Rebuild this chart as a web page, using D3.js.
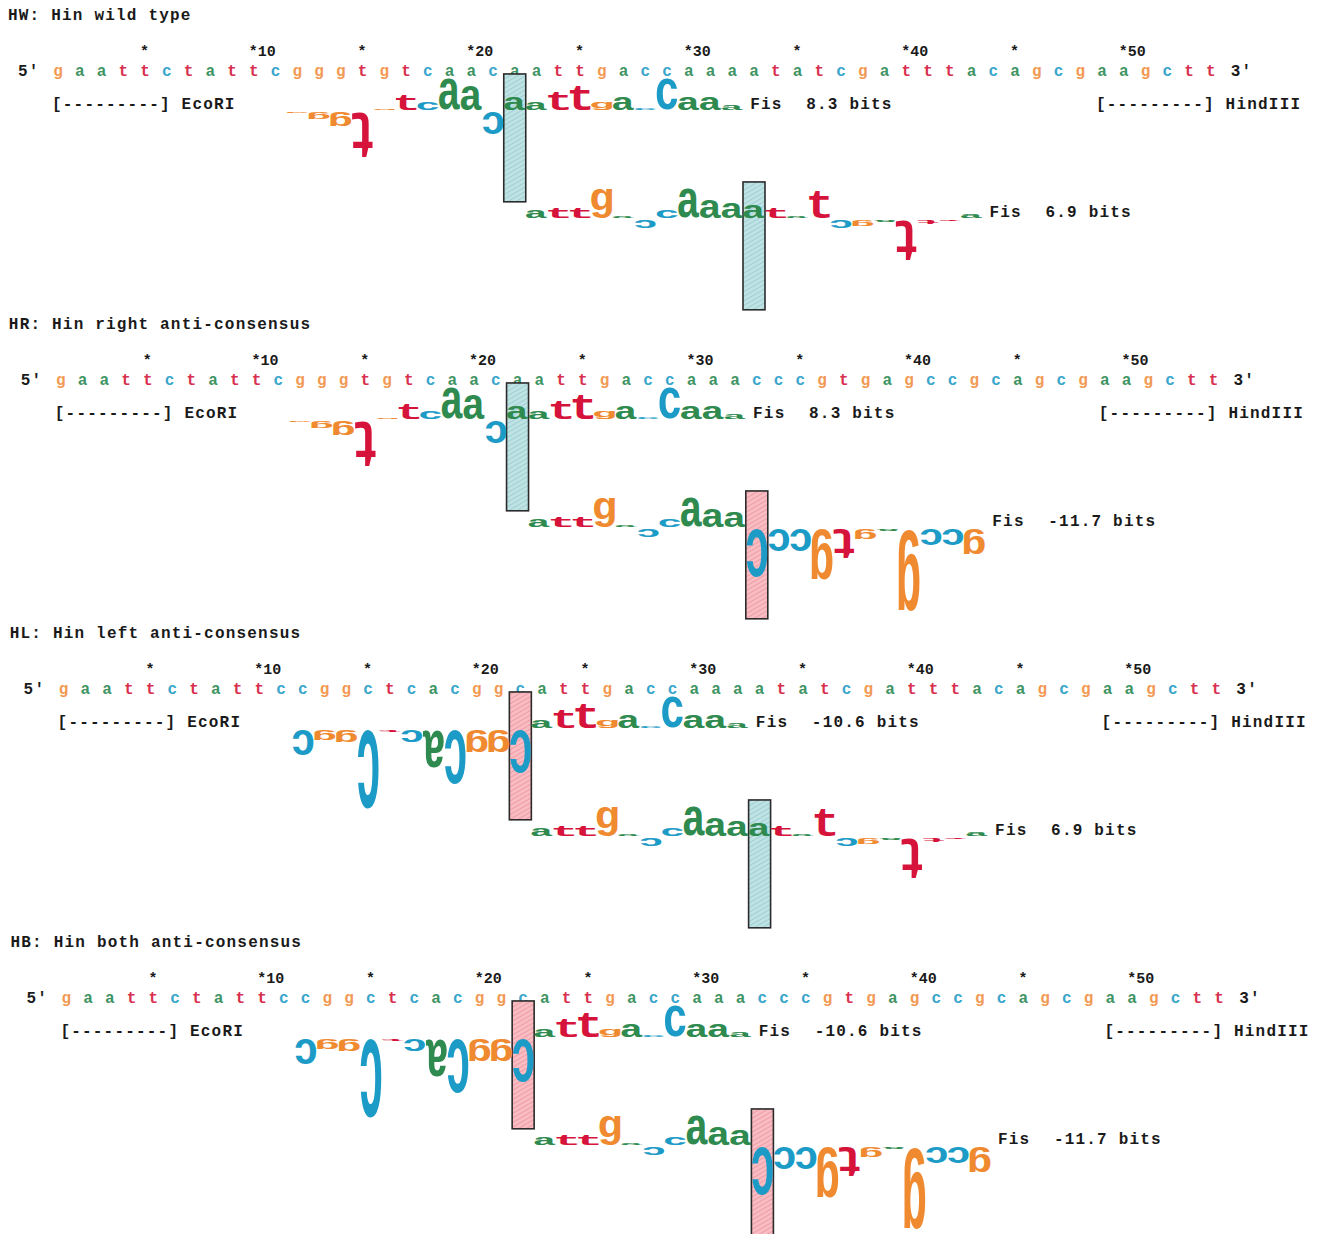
<!DOCTYPE html>
<html>
<head>
<meta charset="utf-8">
<script src="https://cdn.jsdelivr.net/npm/d3@7/dist/d3.min.js"></script>
<style>
  body { margin: 0; background: #ffffff; }
  text { font-family: "Liberation Mono", "DejaVu Sans Mono", monospace; font-weight: bold; }
</style>
</head>
<body>
<svg id="chart"></svg>
<script>
// ---- data ---------------------------------------------------------------
const panelTitles = [
  "HW: Hin wild type",
  "HR: Hin right anti-consensus",
  "HL: Hin left anti-consensus",
  "HB: Hin both anti-consensus"
];

// 54 bp sequence of each construct (EcoRI ... HindIII)
const sequences = [
  "gaattctattcgggtgtcaacaattgaccaaaatatcgatttacagcgaagctt",
  "gaattctattcgggtgtcaacaattgaccaaacccgtgagccgcagcgaagctt",
  "gaattctattccggctcacggcattgaccaaaatatcgatttacagcgaagctt",
  "gaattctattccggctcacggcattgaccaaacccgtgagccgcagcgaagctt"
];

// Fis sequence walkers: individual information R_i (bits), one value per base
const leftSiteStart = 12;   // zero position 22
const rightSiteStart = 23;  // zero position 33
const leftWild  = [-0.1, -0.4, -0.85, -2.65, 0.1, 0.85, 0.45, 1.85, 1.45, -1.3, 0.8,
                   0.45, 1.1, 1.45, 0.45, 0.8, 0.1, 1.85, 0.8, 0.8, 0.3];
const leftAnti  = [-1.5, -0.55, -0.7, -4.6, -0.15, -0.7, -2.2, -3.2, -1.3, -1.3, -2.5,
                   0.45, 1.1, 1.45, 0.45, 0.8, 0.1, 1.85, 0.8, 0.8, 0.3];
const rightWild = [0.5, 0.6, 0.6, 1.75, 0.1, -0.5, 0.5, 1.75, 1.05, 0.9, 0.75,
                   0.6, 0.1, 1.6, -0.5, -0.35, -0.1, -2.4, -0.2, -0.1, 0.25];
const rightAnti = [0.5, 0.6, 0.6, 1.75, 0.1, -0.5, 0.5, 1.75, 1.05, 0.9, -2.8,
                   -1.3, -1.3, -3.0, -1.8, -0.55, -0.1, -4.75, -0.95, -0.95, -1.45];

const panelWalkers = [
  [leftWild, rightWild],
  [leftWild, rightAnti],
  [leftAnti, rightWild],
  [leftAnti, rightAnti]
];
const siteStarts = [leftSiteStart, rightSiteStart];
const siteName = "Fis";

const tickPositions = [5, 10, 15, 20, 25, 30, 35, 40, 45, 50];
const restrictionSites = [
  { name: "EcoRI", from: 1, to: 6 },
  { name: "HindIII", from: 49, to: 54 }
];

// ---- drawing ------------------------------------------------------------
const W = 1326, H = 1234;
const baseColor = { a: "#2e8a4e", c: "#1c9bc7", g: "#f08a30", t: "#d6133b" };
const seqColor  = { a: "#3f9463", c: "#3aa6cc", g: "#f29a55", t: "#d8304f" };

const svg = d3.select("#chart").attr("width", W).attr("height", H);
svg.append("rect").attr("width", W).attr("height", H).attr("fill", "#fff");

const defs = svg.append("defs");
function hatch(id, base, line) {
  const p = defs.append("pattern")
    .attr("id", id).attr("patternUnits", "userSpaceOnUse")
    .attr("width", 4).attr("height", 4)
    .attr("patternTransform", "rotate(60)");
  p.append("rect").attr("width", 4).attr("height", 4).attr("fill", base);
  p.append("line").attr("x1", 0).attr("y1", 0).attr("x2", 0).attr("y2", 4)
    .attr("stroke", line).attr("stroke-width", 1.4);
}
hatch("hatchPos", "#bfe2e4", "#93c8cc");
hatch("hatchNeg", "#f8bcc2", "#ec8f9a");

// ink box of each base glyph, so letters can be stretched to their bit height
const ctx = document.createElement("canvas").getContext("2d");
ctx.font = 'bold 100px "Liberation Mono"';
const glyph = {};
"acgt".split("").forEach(b => {
  const m = ctx.measureText(b);
  glyph[b] = { l: m.actualBoundingBoxLeft, r: m.actualBoundingBoxRight,
               a: m.actualBoundingBoxAscent, d: m.actualBoundingBoxDescent };
});

const bitScale = d3.scaleLinear().domain([0, 1]).range([0, 17]); // px per bit
const boxTopBits = 2.12, boxBottomBits = -5.4;
const letterW = 21;
const labelFont = 16, labelSpacing = 1.2;
const panelStep = 309;

panelTitles.forEach((title, i) => {
  const oy = i * panelStep;
  const shift = i * 2.8;
  const seq = sequences[i];
  const x = d3.scaleLinear().domain([1, seq.length]).range([58 + shift, 1210.75 + shift]);
  const g = svg.append("g");

  const label = (sel) => sel.attr("font-size", labelFont)
    .attr("letter-spacing", labelSpacing).attr("fill", "#1a1a1a");

  g.append("text").attr("x", 8 + shift * 0.3).attr("y", oy + 20).text(title).call(label);

  // coordinate ticks
  g.selectAll(".tick").data(tickPositions).join("text")
    .attr("x", p => x(p) - 5)
    .attr("y", oy + 56)
    .attr("font-size", 15).attr("fill", "#1a1a1a")
    .text(p => p % 10 === 0 ? "*" + p : "*");

  // sequence
  g.append("text").attr("x", x(1) - 40).attr("y", oy + 76).text("5\u2032").call(label);
  g.append("text").attr("x", x(seq.length) + 20).attr("y", oy + 76).text("3\u2032").call(label);
  g.selectAll(".base").data(seq.split("")).join("text")
    .attr("x", (b, k) => x(k + 1))
    .attr("y", oy + 76)
    .attr("text-anchor", "middle")
    .attr("font-size", 16)
    .attr("fill", b => seqColor[b])
    .text(b => b);

  // restriction site brackets
  restrictionSites.forEach(s => {
    g.append("text").attr("x", x(s.from) - 6).attr("y", oy + 109)
      .text("[---------] " + s.name).call(label);
  });

  // walkers
  const walkerBase = [oy + 110, oy + 218];
  panelWalkers[i].forEach((vals, w) => {
    const start = siteStarts[w];
    const base = walkerBase[w];
    const zero = start + (vals.length - 1) / 2;
    const zeroVal = vals[zero - start];

    g.append("rect")
      .attr("x", x(zero) - 11).attr("width", 22)
      .attr("y", base - bitScale(boxTopBits))
      .attr("height", bitScale(boxTopBits - boxBottomBits))
      .attr("fill", zeroVal >= 0 ? "url(#hatchPos)" : "url(#hatchNeg)")
      .attr("stroke", "#2b2b2b").attr("stroke-width", 1.6);

    const letters = vals.map((v, k) => ({ pos: start + k, b: seq[start + k - 1], v }));
    g.selectAll(null).data(letters).join("text")
      .attr("font-size", 100)
      .attr("fill", d => baseColor[d.b])
      .attr("transform", d => {
        const gm = glyph[d.b];
        const h = Math.max(bitScale(Math.abs(d.v)), 1.3);
        const sx = letterW / (gm.l + gm.r);
        const sy = h / (gm.a + gm.d);
        const cx = (gm.r - gm.l) / 2;
        if (d.v >= 0) {
          return `translate(${x(d.pos)},${base}) scale(${sx},${sy}) translate(${-cx},${-gm.d})`;
        }
        return `translate(${x(d.pos)},${base + 2}) scale(${-sx},${-sy}) translate(${-cx},${-gm.d})`;
      })
      .text(d => d.b);

    const total = d3.sum(vals);
    const lx = x(start + vals.length - 1) + 18;
    g.append("text").attr("x", lx).attr("y", base - 1).text(siteName).call(label);
    g.append("text").attr("x", lx + 56).attr("y", base - 1)
      .text(total.toFixed(1) + " bits").call(label);
  });
});
</script>
</body>
</html>
